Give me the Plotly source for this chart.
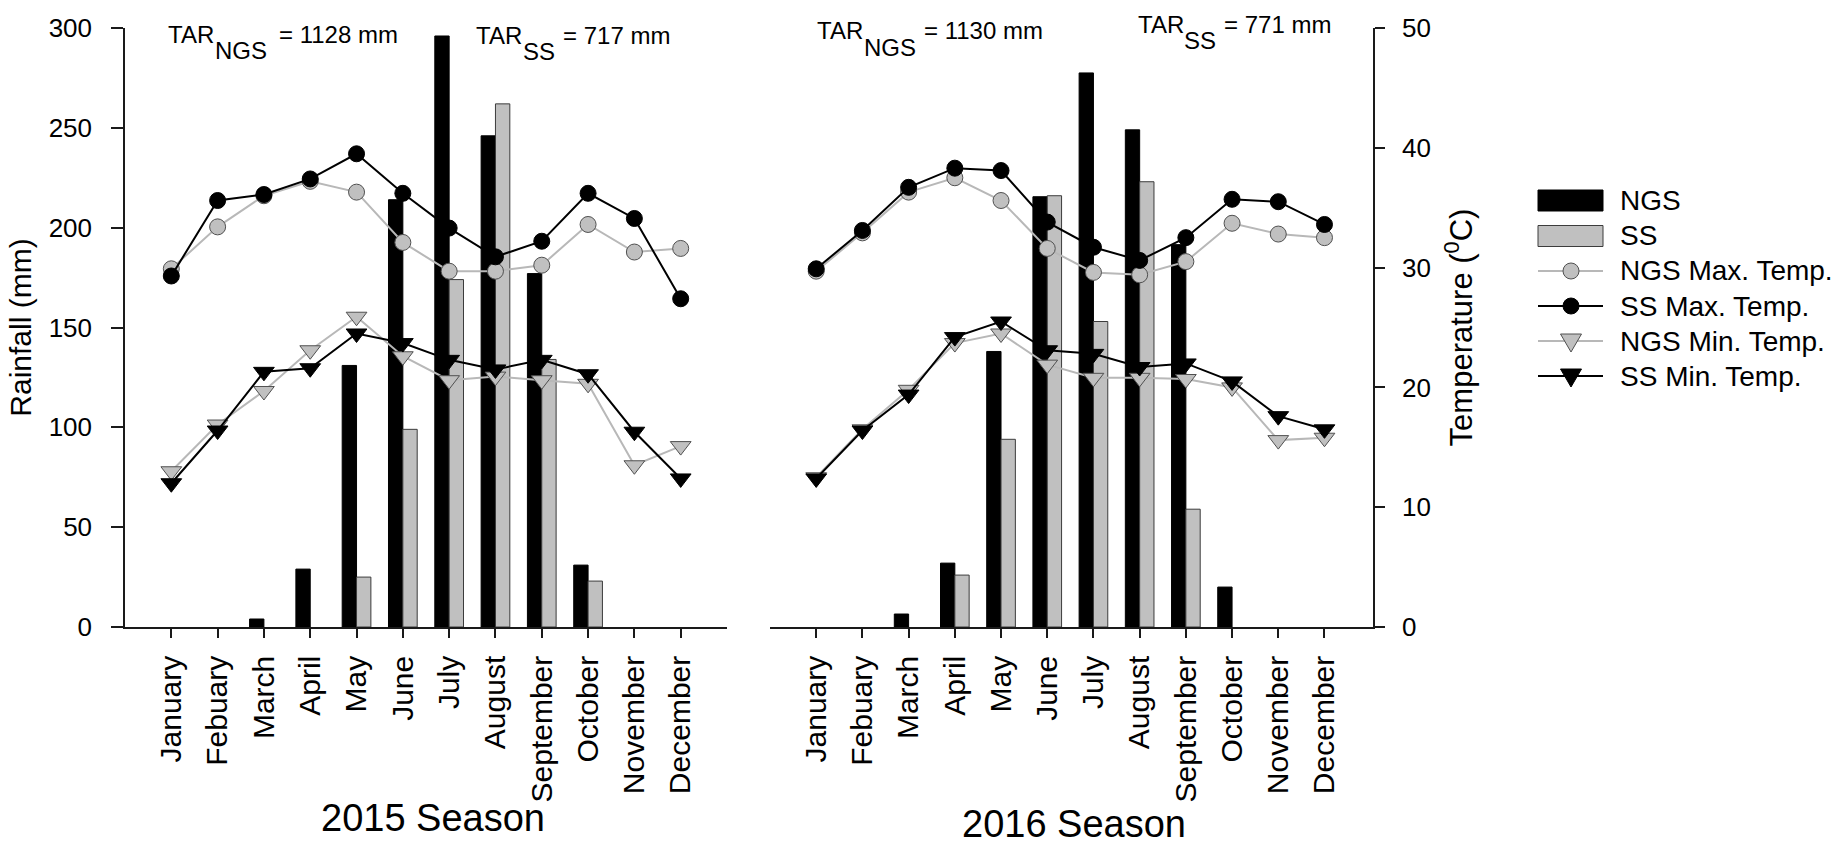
import plotly.graph_objects as go

# ---- data -------------------------------------------------------------
months = ["January", "Febuary", "March", "April", "May", "June", "July",
          "August", "September", "October", "November", "December"]

# monthly rainfall (mm)
rain_ngs_2015 = [0, 0, 4, 29, 131, 214, 296, 246, 177, 31, 0, 0]
rain_ss_2015 = [0, 0, 0, 0, 25, 99, 174, 262, 134, 23, 0, 0]
rain_ngs_2016 = [0, 0, 6.5, 32, 138, 215.5, 277.5, 249, 191.5, 20, 0, 0]
rain_ss_2016 = [0, 0, 0, 26, 94, 216, 153, 223, 59, 0, 0, 0]

# monthly temperatures (deg C)
ngs_max_2015 = [29.9, 33.4, 36.0, 37.2, 36.3, 32.1, 29.7, 29.7, 30.2, 33.6, 31.3, 31.6]
ss_max_2015 = [29.3, 35.6, 36.1, 37.4, 39.5, 36.2, 33.3, 30.9, 32.2, 36.2, 34.1, 27.4]
ngs_min_2015 = [13.0, 16.9, 19.7, 23.1, 25.9, 22.6, 20.6, 20.9, 20.6, 20.3, 13.5, 15.1]
ss_min_2015 = [12.0, 16.4, 21.3, 21.6, 24.5, 23.7, 22.3, 21.5, 22.3, 21.1, 16.3, 12.4]

ngs_max_2016 = [29.7, 32.9, 36.3, 37.5, 35.6, 31.6, 29.6, 29.4, 30.5, 33.7, 32.8, 32.5]
ss_max_2016 = [29.9, 33.1, 36.7, 38.3, 38.1, 33.8, 31.7, 30.6, 32.5, 35.7, 35.5, 33.6]
ngs_min_2016 = [12.5, 16.5, 19.8, 23.7, 24.5, 21.9, 20.8, 20.8, 20.7, 20.0, 15.6, 15.8]
ss_min_2016 = [12.4, 16.4, 19.4, 24.2, 25.5, 23.1, 22.8, 21.7, 22.0, 20.5, 17.6, 16.5]

rain_ticks = [0, 50, 100, 150, 200, 250, 300]
temp_ticks = [0, 10, 20, 30, 40, 50]

# ---- styling ------------------------------------------------------------
W, H = 1842, 846
FONT = "Liberation Sans, Arial, sans-serif"
GRAY = "#c0c0c0"
GRAY_LINE = "#b8b8b8"
EDGE = "#3c3c3c"
AXIS = "#1a1a1a"


def px(x):
    return x / W


def py(y):
    return 1 - y / H


def bars_only(vals):
    # months without rain get no bar at all
    return [v if v > 0 else None for v in vals]


fig = go.Figure()


def add_panel(xa, ya_rain, ya_temp, ngs, ss, ngs_max, ss_max, ngs_min, ss_min):
    fig.add_trace(go.Bar(x=months, y=bars_only(ngs), name="NGS", xaxis=xa, yaxis=ya_rain,
                         marker=dict(color="black", line=dict(color="black", width=1)),
                         showlegend=False))
    fig.add_trace(go.Bar(x=months, y=bars_only(ss), name="SS", xaxis=xa, yaxis=ya_rain,
                         marker=dict(color=GRAY, line=dict(color=EDGE, width=1)),
                         showlegend=False))
    series = [
        ("NGS Max. Temp.", ngs_max, GRAY_LINE, GRAY, "circle", 16),
        ("SS Max. Temp.", ss_max, "black", "black", "circle", 16),
        ("NGS Min. Temp.", ngs_min, GRAY_LINE, GRAY, "triangle-down", 18),
        ("SS Min. Temp.", ss_min, "black", "black", "triangle-down", 18),
    ]
    for name, vals, lc, fc, sym, size in series:
        fig.add_trace(go.Scatter(
            x=months, y=vals, name=name, mode="lines+markers",
            xaxis=xa, yaxis=ya_temp, showlegend=False,
            line=dict(color=lc, width=2),
            marker=dict(symbol=sym, size=size, color=fc,
                        line=dict(color="#505050" if fc == GRAY else "black", width=1)),
        ))


add_panel("x", "y", "y3", rain_ngs_2015, rain_ss_2015,
          ngs_max_2015, ss_max_2015, ngs_min_2015, ss_min_2015)
add_panel("x2", "y2", "y4", rain_ngs_2016, rain_ss_2016,
          ngs_max_2016, ss_max_2016, ngs_min_2016, ss_min_2016)

y_dom = [py(627), py(28)]
tickfont = dict(family=FONT, size=26, color="black")
monthfont = dict(family=FONT, size=30, color="black")

common_x = dict(type="category", tickangle=-90, ticks="outside", ticklen=9,
                tickwidth=1.5, tickcolor=AXIS, showline=True, linecolor=AXIS,
                linewidth=1.5, showgrid=False, zeroline=False, tickfont=monthfont,
                automargin=False, ticklabelstandoff=6)

fig.update_layout(
    width=W, height=H, template="none",
    paper_bgcolor="white", plot_bgcolor="white",
    margin=dict(l=0, r=0, t=0, b=0),
    barmode="group", bargap=0.38, bargroupgap=0,
    showlegend=False,
    font=dict(family=FONT, color="black"),
    xaxis=dict(domain=[px(125), px(727)], range=[-1, 12], anchor="y", **common_x),
    xaxis2=dict(domain=[px(770), px(1373)], range=[-1, 12.05], anchor="y2", **common_x),
    yaxis=dict(domain=y_dom, range=[0, 300], anchor="x", tickvals=rain_ticks,
               ticks="outside", ticklen=12, tickwidth=1.5, tickcolor=AXIS,
               showline=True, linecolor=AXIS, linewidth=1.5, showgrid=False,
               zeroline=False, tickfont=tickfont, automargin=False,
               ticklabelstandoff=14,
               title=dict(text="Rainfall (mm)", font=dict(family=FONT, size=30),
                          standoff=8)),
    yaxis3=dict(domain=y_dom, range=[0, 50], anchor="x", overlaying="y",
                visible=False, showgrid=False, zeroline=False),
    yaxis2=dict(domain=y_dom, range=[0, 300], anchor="x2", visible=False,
                showgrid=False, zeroline=False),
    yaxis4=dict(domain=y_dom, range=[0, 50], anchor="x2", overlaying="y2",
                side="right", tickvals=temp_ticks, ticks="outside", ticklen=10,
                tickwidth=1.5, tickcolor=AXIS, showline=True, linecolor=AXIS,
                linewidth=1.5, showgrid=False, zeroline=False, tickfont=tickfont,
                automargin=False, ticklabelstandoff=12,
                title=dict(text="Temperature (<sup>0</sup>C)",
                           font=dict(family=FONT, size=31), standoff=20)),
)

annotations = []


def text_at(x_left, y_mid, text, size):
    annotations.append(dict(
        x=px(x_left), y=py(y_mid), xref="paper", yref="paper",
        xanchor="left", yanchor="middle", text=text, showarrow=False,
        font=dict(family=FONT, size=size, color="black")))


def total_label(x_tar, x_sub, x_eq, y_main, y_sub, sub, values):
    text_at(x_tar, y_main, "TAR", 24)
    text_at(x_sub, y_sub, sub, 24)
    text_at(x_eq, y_main, f"= {sum(values):.0f} mm", 24)


total_label(166, 213, 277, 34.5, 50.5, "NGS", rain_ngs_2015)
total_label(474, 521, 561, 35, 51, "SS", rain_ss_2015)
total_label(815, 862, 922, 31, 47.5, "NGS", rain_ngs_2016)
total_label(1136, 1182, 1222, 24.5, 40.5, "SS", rain_ss_2016)

for label, xc, yc in [("2015 Season", 433, 818), ("2016 Season", 1074, 824)]:
    annotations.append(dict(
        x=px(xc), y=py(yc), xref="paper", yref="paper", xanchor="center",
        yanchor="middle", text=label, showarrow=False,
        font=dict(family=FONT, size=38, color="black")))

# ---- legend (drawn swatches + labels) ----------------------------------
shapes = []
leg_x0, leg_x1, leg_xm = 1538, 1603, 1571
leg_text_x = 1618
rows = [
    ("NGS", "bar", "black", "black", None, 200.5),
    ("SS", "bar", GRAY, EDGE, None, 236),
    ("NGS Max. Temp.", "line", GRAY_LINE, GRAY, "circle", 271),
    ("SS Max. Temp.", "line", "black", "black", "circle", 306),
    ("NGS Min. Temp.", "line", GRAY_LINE, GRAY, "tri", 341),
    ("SS Min. Temp.", "line", "black", "black", "tri", 376),
]
for label, kind, col, edge, sym, yc in rows:
    if kind == "bar":
        shapes.append(dict(type="rect", xref="paper", yref="paper",
                           x0=px(leg_x0), x1=px(leg_x1), y0=py(yc + 10.5), y1=py(yc - 10.5),
                           fillcolor=col, line=dict(color=edge, width=1)))
    else:
        shapes.append(dict(type="line", xref="paper", yref="paper",
                           x0=px(leg_x0), x1=px(leg_x1), y0=py(yc), y1=py(yc),
                           line=dict(color=col, width=2)))
        mfill = GRAY if col == GRAY_LINE else "black"
        medge = "#505050" if col == GRAY_LINE else "black"
        if sym == "circle":
            shapes.append(dict(type="circle", xref="paper", yref="paper",
                               x0=px(leg_xm - 8), x1=px(leg_xm + 8),
                               y0=py(yc + 8), y1=py(yc - 8),
                               fillcolor=mfill, line=dict(color=medge, width=1)))
        else:
            path = (f"M {px(leg_xm - 10.5)} {py(yc - 7)} "
                    f"L {px(leg_xm + 10.5)} {py(yc - 7)} "
                    f"L {px(leg_xm)} {py(yc + 11)} Z")
            shapes.append(dict(type="path", xref="paper", yref="paper", path=path,
                               fillcolor=mfill, line=dict(color=medge, width=1)))
    text_at(leg_text_x, yc, label, 28)

fig.update_layout(annotations=annotations, shapes=shapes)

fig.write_html("out.html")
